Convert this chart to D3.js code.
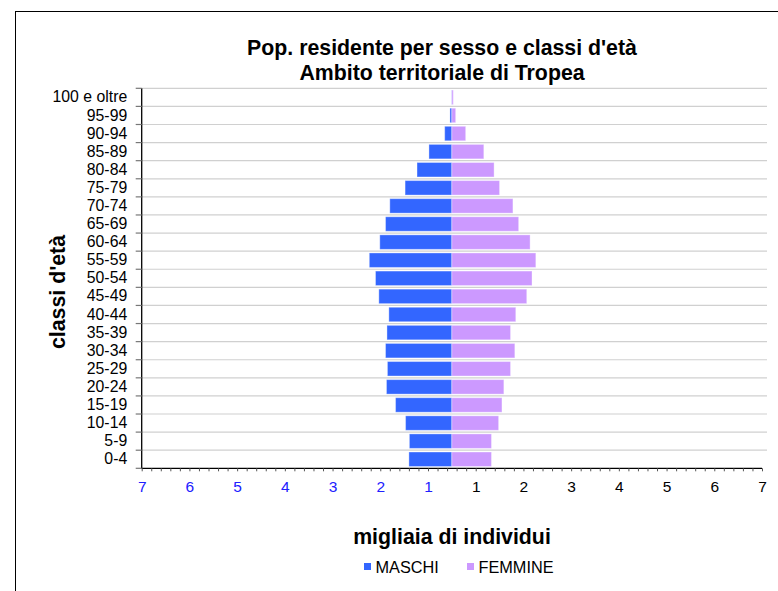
<!DOCTYPE html>
<html>
<head>
<meta charset="utf-8">
<script src="https://cdn.jsdelivr.net/npm/d3@7"></script>
<style>
  html, body { margin: 0; padding: 0; background: #fff; }
  svg { display: block; font-family: "Liberation Sans", Arial, sans-serif; }
</style>
</head>
<body>
<svg id="chart" width="778" height="591"></svg>
<script>
// ---- data (thousands of residents) ----
const categories = ["0-4","5-9","10-14","15-19","20-24","25-29","30-34","35-39","40-44","45-49",
  "50-54","55-59","60-64","65-69","70-74","75-79","80-84","85-89","90-94","95-99","100 e oltre"];
const maschi  = [0.90, 0.89, 0.97, 1.18, 1.37, 1.35, 1.39, 1.36, 1.32, 1.53,
                 1.60, 1.73, 1.51, 1.39, 1.30, 0.98, 0.73, 0.48, 0.15, 0.04, 0.005];
const femmine = [0.83, 0.83, 0.98, 1.05, 1.09, 1.23, 1.32, 1.23, 1.34, 1.57,
                 1.68, 1.76, 1.64, 1.40, 1.28, 1.00, 0.885, 0.67, 0.29, 0.08, 0.03];
const xTickValues = [-6.5,-5.5,-4.5,-3.5,-2.5,-1.5,-0.5,0.5,1.5,2.5,3.5,4.5,5.5,6.5];
const xTickLabels = ["7","6","5","4","3","2","1","1","2","3","4","5","6","7"];
const seriesNames = ["MASCHI","FEMMINE"];
const seriesColors = ["#3366FF","#CC99FF"];

const svg = d3.select("#chart");

// outer frame
svg.append("rect").attr("x", 15.5).attr("y", 11.5).attr("width", 800).attr("height", 620)
  .attr("fill", "none").attr("stroke", "#000").attr("stroke-width", 1);

const plotL = 141.7, plotR = 762, plotT = 88.3, plotB = 468.3;

const x = d3.scaleLinear().domain([-6.5, 6.5]).range([plotL, plotR]);
const y = d3.scaleBand().domain(categories.slice().reverse()).range([plotT, plotB])
  .paddingInner(0.2).paddingOuter(0.1);
const step = y.step();

// gridlines at band boundaries
const bounds = d3.range(categories.length).map(i => plotT + i * step);
svg.append("g").selectAll("line").data(bounds).join("line")
  .attr("x1", plotL).attr("x2", plotR + 5)
  .attr("y1", d => d).attr("y2", d => d)
  .attr("stroke", "#d0d0d0").attr("stroke-width", 1.2);

// bars
const x0 = x(0);
const gBars = svg.append("g");
gBars.selectAll("rect.m").data(categories).join("rect").attr("class","m")
  .attr("x", (d,i) => x(-maschi[i]))
  .attr("width", (d,i) => x0 - x(-maschi[i]))
  .attr("y", d => y(d)).attr("height", y.bandwidth())
  .attr("fill", seriesColors[0]).attr("stroke", "#fff").attr("stroke-opacity", 0.35).attr("stroke-width", 1);
gBars.selectAll("rect.f").data(categories).join("rect").attr("class","f")
  .attr("x", x0)
  .attr("width", (d,i) => x(femmine[i]) - x0)
  .attr("y", d => y(d)).attr("height", y.bandwidth())
  .attr("fill", seriesColors[1]).attr("stroke", "#fff").attr("stroke-opacity", 0.35).attr("stroke-width", 1);

// y axis: line, ticks at boundaries, labels
svg.append("line").attr("x1", plotL).attr("x2", plotL).attr("y1", plotT).attr("y2", plotB)
  .attr("stroke", "#000").attr("stroke-width", 1.3);
svg.append("g").selectAll("line").data(bounds.concat([plotB])).join("line")
  .attr("x1", plotL - 6).attr("x2", plotL).attr("y1", d => d).attr("y2", d => d)
  .attr("stroke", "#777").attr("stroke-width", 1.2);
const yAxis = d3.axisLeft(y).tickSize(0).tickPadding(14.5);
const gy = svg.append("g").attr("transform", `translate(${plotL},0)`).call(yAxis);
gy.select(".domain").remove();
gy.selectAll("text").attr("font-size", 15.8).attr("fill", "#000")
  .attr("font-family", "'Liberation Sans', Arial, sans-serif");

// x axis: line + minor ticks
const minorTicks = d3.range(0, 66).map(i => -6.5 + i * 0.2);
const xMinor = d3.axisBottom(x).tickValues(minorTicks).tickSize(3).tickFormat("");
const gxm = svg.append("g").attr("transform", `translate(0,${plotB})`).call(xMinor);
gxm.select(".domain").attr("stroke", "#000").attr("stroke-width", 1.3).attr("d", `M${plotL},0H${plotR}`);
gxm.selectAll(".tick line").attr("stroke", "#555");

const xLab = d3.axisBottom(x).tickValues(xTickValues).tickSize(0).tickPadding(12.5)
  .tickFormat((d,i) => xTickLabels[i]);
const gxl = svg.append("g").attr("transform", `translate(0,${plotB})`).call(xLab);
gxl.select(".domain").remove();
gxl.selectAll("text").attr("font-size", 15.5)
  .attr("font-family", "'Liberation Sans', Arial, sans-serif")
  .attr("fill", d => d < 0 ? "#2020ff" : "#000");

// titles
const title = svg.append("text").attr("text-anchor", "middle").attr("font-weight", "bold")
  .attr("font-size", 21.3).attr("fill", "#000");
title.append("tspan").attr("x", 442).attr("y", 55).text("Pop. residente per sesso e classi d'età");
title.append("tspan").attr("x", 442).attr("y", 80).text("Ambito territoriale di Tropea");

svg.append("text").attr("text-anchor", "middle").attr("font-weight", "bold").attr("font-size", 21.3)
  .attr("transform", "translate(65,292) rotate(-90)").text("classi d'età");

svg.append("text").attr("text-anchor", "middle").attr("font-weight", "bold").attr("font-size", 21.3)
  .attr("x", 452).attr("y", 544).text("migliaia di individui");

// legend
const legendX = [364, 467];
const lg = svg.append("g").selectAll("g").data(seriesNames).join("g")
  .attr("transform", (d,i) => `translate(${legendX[i]},0)`);
lg.append("rect").attr("x", 0).attr("y", 563).attr("width", 7).attr("height", 7)
  .attr("fill", (d,i) => seriesColors[i]);
lg.append("text").attr("x", 11.5).attr("y", 573).attr("font-size", 16.3).attr("fill", "#000").text(d => d);
</script>
</body>
</html>
